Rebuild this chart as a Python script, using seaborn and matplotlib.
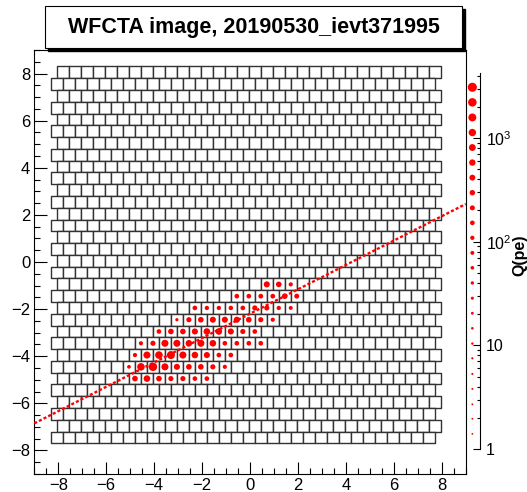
import numpy as np
import pandas as pd
import matplotlib
matplotlib.use("Agg")
import matplotlib.pyplot as plt
import seaborn as sns
from matplotlib.patches import Rectangle
from matplotlib.collections import PatchCollection
from matplotlib.ticker import MultipleLocator, FixedLocator, FixedFormatter, LogLocator, NullFormatter

# ---------------- data ----------------
title_text = "WFCTA image, 20190530_ievt371995"

# camera layout (32 x 32 pixels, alternate rows shifted by half a pixel)
n_rows = 32
n_cols = 32
pitch = 0.5
row_top = 8.3
x_start_even = -8.05
x_start_odd = -8.3

# fired pixels: camera row, camera column, charge (pe)
pix_row = ([18] * 3 + [19] * 6 + [20] * 9 + [21] * 9 + [22] * 9 + [23] * 11
           + [24] * 9 + [25] * 9 + [26] * 7)
pix_col = (list(range(17, 20)) + list(range(15, 21)) + list(range(11, 20))
           + list(range(10, 19)) + list(range(8, 17)) + list(range(7, 18))
           + list(range(6, 15)) + list(range(6, 15)) + list(range(6, 13)))
pix_q = [480, 340, 100,
         155, 155, 170, 170, 340, 200,
         155, 110, 110, 130, 155, 233, 233, 110, 80,
         35, 233, 340, 480, 480, 480, 340, 233, 100,
         155, 340, 340, 480, 675, 675, 480, 233, 155,
         100, 233, 930, 930, 675, 930, 675, 155, 155, 155, 155,
         100, 930, 1260, 1670, 930, 675, 480, 155, 155,
         62, 1260, 2230, 930, 480, 340, 340, 233, 100,
         340, 675, 340, 233, 233, 155, 155]

# fitted shower axis
line_x = [-9.0, 9.0]
line_y = [-6.85, 2.46]

# charge scale markers on the Q axis
scale_q = [3090, 2210, 1580, 1130, 810, 580, 415, 297, 212, 152, 109, 78,
           56, 40, 28.5, 20.4, 14.6, 10.4, 7.5, 5.3, 3.8, 2.7, 1.96, 1.4]

q_ticks = [1, 10, 100, 1000]
q_tick_labels = ["1", "10", "$10^{2}$", "$10^{3}$"]
q_max = 4270
q_label = "Q(pe)"

# ---------------- style ----------------
W, H, DPI = 527, 492, 100
sns.set_theme(style="white")
plt.rcParams["font.family"] = ["Liberation Sans", "DejaVu Sans"]
plt.rcParams["mathtext.fontset"] = "custom"
plt.rcParams["mathtext.rm"] = "Liberation Sans"
plt.rcParams["mathtext.it"] = "Liberation Sans:italic"
plt.rcParams["mathtext.bf"] = "Liberation Sans:bold"


def q_to_area(q):
    d_px = 1.8 + 0.6 * np.log10(q) ** 2
    return (d_px * 72.0 / DPI) ** 2


a_lo, a_hi = q_to_area(1.0), q_to_area(10000.0)

fig = plt.figure(figsize=(W / DPI, H / DPI), dpi=DPI)
fig.patch.set_facecolor("white")


def px_axes(l, t, r, b):
    return [l / W, (H - b) / H, (r - l) / W, (b - t) / H]


ax = fig.add_axes(px_axes(34.3, 50, 465.7, 474))
ax.set_facecolor("white")

# camera cells
cells = []
for k in range(n_rows):
    x0 = x_start_even if k % 2 == 0 else x_start_odd
    yb = row_top - pitch * (k + 1)
    for j in range(n_cols):
        cells.append(Rectangle((x0 + pitch * j, yb), pitch, pitch))
ax.add_collection(PatchCollection(cells, facecolor="white", edgecolor="#333333",
                                  linewidth=1.0, zorder=1))

# fired pixels
pix_row_a = np.array(pix_row)
pix_col_a = np.array(pix_col)
x_first = np.where(pix_row_a % 2 == 0, x_start_even, x_start_odd)
df = pd.DataFrame({
    "x": x_first + pitch / 2 + pitch * pix_col_a,
    "y": row_top - pitch / 2 - pitch * pix_row_a,
    "area": [q_to_area(q) for q in pix_q],
})
sns.scatterplot(data=df, x="x", y="y", size="area", sizes=(a_lo, a_hi),
                size_norm=(a_lo, a_hi), color="red", linewidth=0, legend=False,
                ax=ax, zorder=3)

# shower axis line
sns.lineplot(x=line_x, y=line_y, color="red", linewidth=1.7,
             linestyle=(0, (1.3, 0.9)), ax=ax, zorder=4)

ax.set_xlim(-9, 9)
ax.set_ylim(-9, 9)
ax.set_xlabel("")
ax.set_ylabel("")
ax.xaxis.set_major_locator(MultipleLocator(2))
ax.xaxis.set_minor_locator(MultipleLocator(0.5))
ax.yaxis.set_major_locator(MultipleLocator(2))
ax.yaxis.set_minor_locator(MultipleLocator(0.5))
ax.tick_params(which="both", direction="in", bottom=True, left=True, top=False,
               right=False, color="black", width=0.8, labelsize=12,
               labelcolor="black")
ax.tick_params(which="major", length=9)
ax.tick_params(which="minor", length=4.5)
ax.tick_params(axis="x", pad=3)
ax.tick_params(axis="y", pad=3)
for s in ax.spines.values():
    s.set_color("black")
    s.set_linewidth(0.8)

# Q axis
ax2 = fig.add_axes(px_axes(463, 72.7, 480, 449))
ax2.set_facecolor("none")
ax2.set_yscale("log")
ax2.set_ylim(1, q_max)
ax2.set_xlim(0, 1)
sdf = pd.DataFrame({"x": [0.55] * len(scale_q), "y": scale_q,
                    "area": [q_to_area(q) for q in scale_q]})
sns.scatterplot(data=sdf, x="x", y="y", size="area", sizes=(a_lo, a_hi),
                size_norm=(a_lo, a_hi), color="red", linewidth=0, legend=False,
                ax=ax2, zorder=3, clip_on=False)
for side in ["left", "top", "bottom"]:
    ax2.spines[side].set_visible(False)
ax2.spines["right"].set_color("black")
ax2.spines["right"].set_linewidth(0.8)
ax2.set_xticks([])
ax2.set_xlabel("")
ax2.set_ylabel("")
ax2.yaxis.tick_right()
ax2.yaxis.set_major_locator(FixedLocator(q_ticks))
ax2.yaxis.set_major_formatter(FixedFormatter(q_tick_labels))
ax2.yaxis.set_minor_locator(LogLocator(base=10, subs=np.arange(2, 10)))
ax2.yaxis.set_minor_formatter(NullFormatter())
ax2.tick_params(which="both", direction="in", right=True, left=False,
                labelright=True, labelleft=False, color="black", width=0.8,
                labelsize=11.5, labelcolor="black", pad=4)
ax2.tick_params(which="major", length=5)
ax2.tick_params(which="minor", length=2.5)
fig.text(519.5 / W, 1 - 255 / H, q_label, rotation=90, ha="center", va="center",
         fontsize=11.5, fontweight="bold", color="black")

# title box with shadow
bx0, by0, bx1, by1 = 45, 6, 462, 48
sh = 3
fig.patches.append(Rectangle(((bx0 + sh) / W, (H - by1 - sh) / H),
                             (bx1 - bx0) / W, (by1 - by0) / H,
                             transform=fig.transFigure, facecolor="black",
                             edgecolor="black", zorder=5))
fig.patches.append(Rectangle((bx0 / W, (H - by1) / H),
                             (bx1 - bx0) / W, (by1 - by0) / H,
                             transform=fig.transFigure, facecolor="white",
                             edgecolor="black", linewidth=0.8, zorder=6))
fig.text((bx0 + bx1) / 2 / W, (H - (by0 + by1) / 2) / H, title_text,
         ha="center", va="center", fontsize=15.5, fontweight="bold",
         color="black", zorder=7)

fig.savefig("out.png", dpi=DPI, facecolor="white")
